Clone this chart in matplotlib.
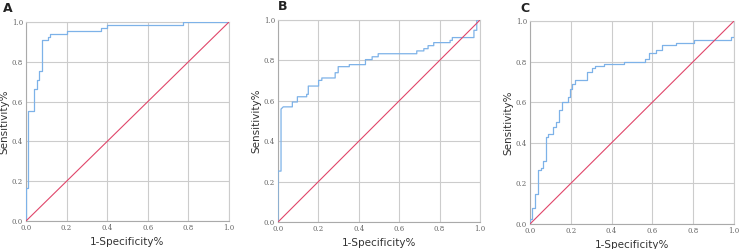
import matplotlib
matplotlib.use("Agg")
import matplotlib.pyplot as plt

# ROC step curves (1-specificity, sensitivity)
a_fpr = [0.0, 0.0, 0.010, 0.010, 0.041, 0.041, 0.053, 0.053, 0.064, 0.064, 0.080, 0.080,
         0.110, 0.110, 0.118, 0.118, 0.200, 0.200, 0.368, 0.368, 0.400, 0.400, 0.772, 0.772, 1.0]
a_tpr = [0.0, 0.166, 0.166, 0.555, 0.555, 0.662, 0.662, 0.709, 0.709, 0.755, 0.755, 0.909,
         0.909, 0.924, 0.924, 0.941, 0.941, 0.956, 0.956, 0.970, 0.970, 0.985, 0.985, 1.0, 1.0]

b_fpr = [0.0, 0.0, 0.015, 0.015, 0.026, 0.071, 0.071, 0.096, 0.096, 0.142, 0.142, 0.150, 0.150,
         0.201, 0.201, 0.217, 0.217, 0.283, 0.283, 0.298, 0.298, 0.353, 0.353, 0.433, 0.433,
         0.466, 0.466, 0.496, 0.496, 0.687, 0.687, 0.722, 0.722, 0.743, 0.743, 0.771, 0.771,
         0.852, 0.852, 0.863, 0.863, 0.970, 0.970, 0.984, 0.984, 1.0]
b_tpr = [0.0, 0.252, 0.252, 0.559, 0.570, 0.570, 0.594, 0.594, 0.620, 0.620, 0.632, 0.632, 0.673,
         0.673, 0.701, 0.701, 0.713, 0.713, 0.739, 0.739, 0.769, 0.769, 0.779, 0.779, 0.804,
         0.804, 0.818, 0.818, 0.833, 0.833, 0.847, 0.847, 0.858, 0.858, 0.873, 0.873, 0.888,
         0.888, 0.899, 0.899, 0.913, 0.913, 0.949, 0.949, 1.0, 1.0]

c_fpr = [0.0, 0.0, 0.010, 0.010, 0.025, 0.025, 0.041, 0.041, 0.054, 0.054, 0.065, 0.065,
         0.079, 0.079, 0.090, 0.090, 0.113, 0.113, 0.126, 0.126, 0.144, 0.144, 0.155, 0.155,
         0.187, 0.187, 0.196, 0.196, 0.208, 0.208, 0.221, 0.221, 0.280, 0.280, 0.306, 0.306,
         0.321, 0.321, 0.365, 0.365, 0.460, 0.460, 0.566, 0.566, 0.581, 0.581, 0.619, 0.619,
         0.646, 0.646, 0.714, 0.714, 0.805, 0.805, 0.984, 0.984, 1.0, 1.0]
c_tpr = [0.0, 0.025, 0.025, 0.080, 0.080, 0.149, 0.149, 0.265, 0.265, 0.278, 0.278, 0.309,
         0.309, 0.427, 0.427, 0.442, 0.442, 0.480, 0.480, 0.500, 0.500, 0.561, 0.561, 0.602,
         0.602, 0.628, 0.628, 0.666, 0.666, 0.690, 0.690, 0.707, 0.707, 0.748, 0.748, 0.769,
         0.769, 0.776, 0.776, 0.789, 0.789, 0.800, 0.800, 0.815, 0.815, 0.841, 0.841, 0.856,
         0.856, 0.880, 0.880, 0.894, 0.894, 0.908, 0.908, 0.921, 0.921, 1.0]

panel_letters = ["A", "B", "C"]
ticks = [0.0, 0.2, 0.4, 0.6, 0.8, 1.0]
tick_labels = ["0.0", "0.2", "0.4", "0.6", "0.8", "1.0"]
xlabel = "1-Specificity%"
ylabel = "Sensitivity%"

curves = [(a_fpr, a_tpr), (b_fpr, b_tpr), (c_fpr, c_tpr)]
positions = [
    [26/741, 28/249, 203/741, 199/249],
    [278/741, 27/249, 202/741, 202/249],
    [530/741, 25/249, 204/741, 203/249],
]
letter_pos = [(3/741, 240/249), (278/741, 243/249), (520/741, 240/249)]

fig = plt.figure(figsize=(7.41, 2.49), dpi=100)
for i, ((fx, ty), pos) in enumerate(zip(curves, positions)):
    ax = fig.add_axes(pos)
    ax.plot(fx, ty, color="#7db2e8", lw=0.9, zorder=3)
    ax.plot([0, 1], [0, 1], color="#e0466a", lw=0.8, zorder=3)
    ax.set_xlim(0, 1)
    ax.set_ylim(0, 1)
    ax.set_xticks(ticks)
    ax.set_yticks(ticks)
    ax.set_xticklabels(tick_labels, family="DejaVu Serif", fontsize=5, color="#666666")
    ax.set_yticklabels(tick_labels, family="DejaVu Serif", fontsize=5, color="#666666")
    ax.tick_params(length=0, pad=2)
    ax.grid(True, color="#cccccc", lw=0.8)
    ax.set_axisbelow(True)
    for s in ax.spines.values():
        s.set_color("#cccccc")
        s.set_linewidth(0.8)
    ax.spines["left"].set_color("#aaaaaa")
    ax.spines["bottom"].set_color("#aaaaaa")
    ax.set_xlabel(xlabel, fontsize=7.5, color="#333333", labelpad=4)
    ax.set_ylabel(ylabel, fontsize=7.5, color="#333333", labelpad=2)
    fig.text(letter_pos[i][0], letter_pos[i][1], panel_letters[i], fontsize=9,
             fontweight="bold", color="#222222", va="center", ha="left")

fig.savefig("out.png", dpi=100)
